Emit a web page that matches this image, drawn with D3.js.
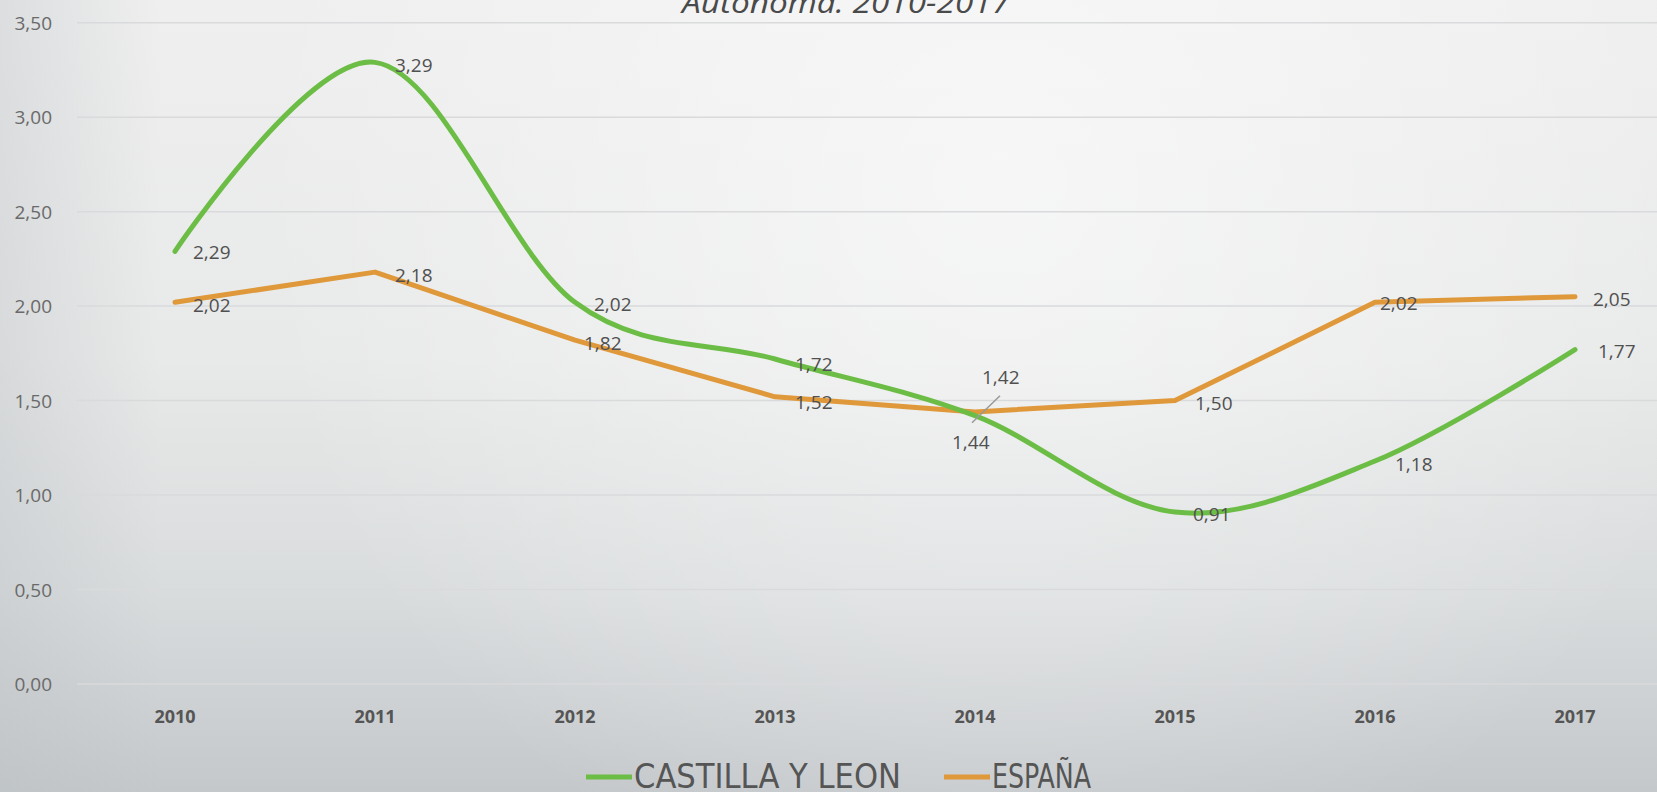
<!DOCTYPE html>
<html>
<head>
<meta charset="utf-8">
<script src="https://cdn.jsdelivr.net/npm/d3@7/dist/d3.min.js"></script>
<style>
  html, body { margin: 0; padding: 0; overflow: hidden; }
  svg { display: block; }
</style>
</head>
<body>
<svg id="chart" width="1657" height="792"></svg>
<script>
// ---- data ----
const years = ["2010", "2011", "2012", "2013", "2014", "2015", "2016", "2017"];
const castillaYLeon = [2.29, 3.29, 2.02, 1.72, 1.42, 0.91, 1.18, 1.77];
const espana = [2.02, 2.18, 1.82, 1.52, 1.44, 1.50, 2.02, 2.05];
const yTicks = [0, 0.5, 1, 1.5, 2, 2.5, 3, 3.5];
const seriesNames = ["CASTILLA Y LEON", "ESPAÑA"];
const titleText = "Autónoma. 2010-2017";

// ---- label offsets (style) ----
const cylOffsets = [[18, 8], [20, 10], [19, 9], [20, 12], [7, -32], [18, 9], [20, 10], [23, 8]];
const espOffsets = [[18, 10], [20, 10], [9, 10], [20, 12], [-23, 37], [20, 9], [5, 8], [18, 9]];

const W = 1657, H = 792;
const svg = d3.select("#chart");
const defs = svg.append("defs");

const lg = defs.append("linearGradient").attr("id", "bg").attr("x1", 0).attr("y1", 0).attr("x2", 0).attr("y2", 1);
lg.append("stop").attr("offset", "0%").attr("stop-color", "#efefef");
lg.append("stop").attr("offset", "45%").attr("stop-color", "#e8e9e9");
lg.append("stop").attr("offset", "75%").attr("stop-color", "#d9dcdd");
lg.append("stop").attr("offset", "100%").attr("stop-color", "#c4c8cb");

const rg = defs.append("radialGradient").attr("id", "glow")
  .attr("gradientUnits", "userSpaceOnUse").attr("cx", 1000).attr("cy", 180).attr("r", 750);
rg.append("stop").attr("offset", "0%").attr("stop-color", "#ffffff").attr("stop-opacity", 0.55);
rg.append("stop").attr("offset", "100%").attr("stop-color", "#ffffff").attr("stop-opacity", 0);

const lgL = defs.append("linearGradient").attr("id", "leftshade").attr("x1", 0).attr("y1", 0).attr("x2", 1).attr("y2", 0);
lgL.append("stop").attr("offset", "0%").attr("stop-color", "#b9bec2").attr("stop-opacity", 0.35);
lgL.append("stop").attr("offset", "100%").attr("stop-color", "#b9bec2").attr("stop-opacity", 0);

svg.append("rect").attr("width", W).attr("height", H).attr("fill", "url(#bg)");
svg.append("rect").attr("width", W).attr("height", H).attr("fill", "url(#glow)");
svg.append("rect").attr("width", 160).attr("height", H).attr("fill", "url(#leftshade)");

// ---- scales ----
const x = d3.scaleBand().domain(years).range([75, 1675]);
const cx = d => x(d) + x.bandwidth() / 2;
const y = d3.scaleLinear().domain([0, 3.5]).range([684, 22.7]);

// ---- gridlines ----
svg.append("g").selectAll("line").data(yTicks).join("line")
  .attr("x1", 77).attr("x2", W)
  .attr("y1", d => y(d)).attr("y2", d => y(d))
  .attr("stroke", "#d9dadb").attr("stroke-width", 1.5);

// ---- y axis labels ----
const fmt = v => d3.format(".2f")(v).replace(".", ",");
const yAxis = d3.axisLeft(y).tickValues(yTicks).tickFormat(fmt).tickSize(0).tickPadding(0);
const gy = svg.append("g").attr("transform", "translate(52,0)").call(yAxis);
gy.select(".domain").remove();
gy.selectAll("text")
  .attr("font-family", "'Open Sans', sans-serif").attr("font-size", 19)
  .attr("fill", "#6a6a6a").attr("dy", "0.35em");

// ---- x axis labels ----
const xAxis = d3.axisBottom(x).tickSize(0).tickPadding(0);
const gx = svg.append("g").attr("transform", "translate(0,709)").call(xAxis);
gx.select(".domain").remove();
gx.selectAll("text")
  .attr("font-family", "'Open Sans', sans-serif").attr("font-size", 18).attr("font-weight", 700)
  .attr("fill", "#555").attr("dy", "0.78em");

// ---- title ----
svg.append("text").attr("x", 682).attr("y", 13)
  .attr("font-family", "'Open Sans', sans-serif").attr("font-style", "italic").attr("font-size", 29)
  .attr("fill", "#4a4a4a").attr("textLength", 328).attr("lengthAdjust", "spacingAndGlyphs")
  .text(titleText);

// ---- lines ----
const green = "#6cbd45", orange = "#df983a";
const lineLinear = d3.line().x((d, i) => cx(years[i])).y(d => y(d)).curve(d3.curveLinear);
const lineSmooth = d3.line().x((d, i) => cx(years[i])).y(d => y(d)).curve(d3.curveCardinal.tension(0));

svg.append("path").datum(espana).attr("d", lineLinear)
  .attr("fill", "none").attr("stroke", orange).attr("stroke-width", 5)
  .attr("stroke-linejoin", "round").attr("stroke-linecap", "round");
svg.append("path").datum(castillaYLeon).attr("d", lineSmooth)
  .attr("fill", "none").attr("stroke", green).attr("stroke-width", 5)
  .attr("stroke-linecap", "round");

// ---- leader line for 2014 CyL ----
const i14 = years.indexOf("2014");
svg.append("line")
  .attr("x1", cx(years[i14]) + 25).attr("y1", y(castillaYLeon[i14]) - 20)
  .attr("x2", cx(years[i14]) - 3).attr("y2", y(castillaYLeon[i14]) + 7)
  .attr("stroke", "#999").attr("stroke-width", 1.5);

// ---- data labels ----
function labels(vals, offs) {
  svg.append("g").selectAll("text").data(vals).join("text")
    .attr("x", (d, i) => cx(years[i]) + offs[i][0])
    .attr("y", (d, i) => y(d) + offs[i][1])
    .attr("font-family", "'Open Sans', sans-serif").attr("font-size", 19)
    .attr("fill", "#505050")
    .text(d => fmt(d));
}
labels(castillaYLeon, cylOffsets);
labels(espana, espOffsets);

// ---- legend ----
const legendFont = "'Liberation Sans Narrow', 'DejaVu Sans Condensed', 'Roboto', sans-serif";
const lgx = [586, 944], lgw = [267, 99];
[green, orange].forEach((c, i) => {
  svg.append("line").attr("x1", lgx[i]).attr("x2", lgx[i] + 46)
    .attr("y1", 777).attr("y2", 777).attr("stroke", c).attr("stroke-width", 5);
  svg.append("text").attr("x", lgx[i] + 48).attr("y", 788)
    .attr("font-family", legendFont).attr("font-size", 34).attr("fill", "#555")
    .attr("textLength", lgw[i]).attr("lengthAdjust", "spacingAndGlyphs")
    .text(seriesNames[i]);
});
</script>
</body>
</html>
